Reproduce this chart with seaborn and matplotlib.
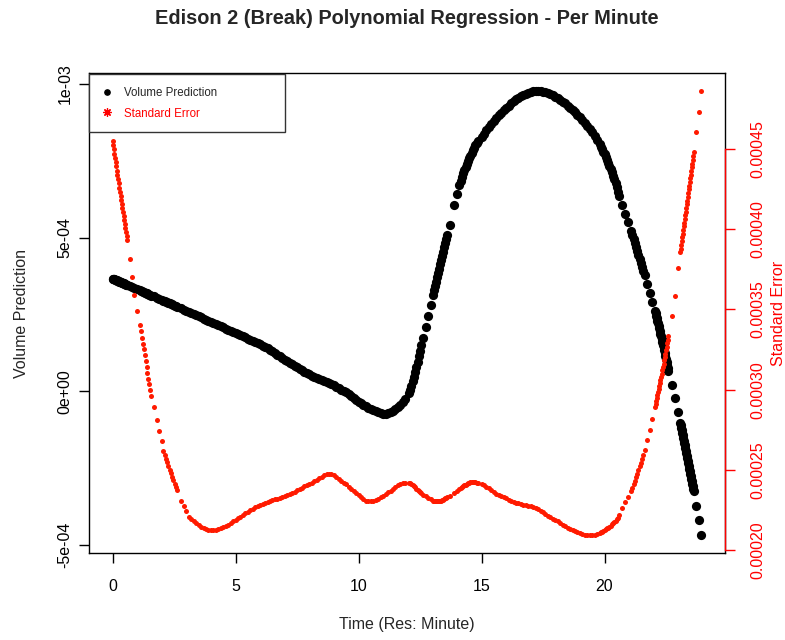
import numpy as np
import pandas as pd
import matplotlib
matplotlib.use("Agg")
import matplotlib.pyplot as plt
import seaborn as sns
from matplotlib.lines import Line2D

TITLE = "Edison 2 (Break) Polynomial Regression - Per Minute"
X_LABEL = "Time (Res: Minute)"
Y_LABEL = "Volume Prediction"
Y2_LABEL = "Standard Error"
LEGEND_LABELS = ["Volume Prediction", "Standard Error"]

# time of day (hours) for each fitted point
time_hr = [
    0.000, 0.025, 0.050, 0.075, 0.100, 0.125, 0.150, 0.175, 0.200, 0.225,
    0.250, 0.275, 0.300, 0.325, 0.350, 0.375, 0.400, 0.425, 0.450, 0.475,
    0.500, 0.525, 0.550, 0.575, 0.600,
    0.69, 0.78, 0.89, 1.00,
    1.10, 1.14, 1.18, 1.22, 1.26, 1.30, 1.34, 1.38, 1.42, 1.46, 1.50, 1.54, 1.58,
    1.67, 1.79, 1.88, 1.99,
    2.07, 2.12, 2.17, 2.22, 2.27, 2.32, 2.37, 2.42, 2.47, 2.52, 2.57, 2.62,
    2.79, 2.89, 2.99,
    3.1, 3.2, 3.3, 3.4, 3.5, 3.6, 3.7, 3.8, 3.9,
    4.0, 4.1, 4.2, 4.3, 4.4, 4.5, 4.6, 4.7, 4.8, 4.9,
    5.0, 5.1, 5.2, 5.3, 5.4, 5.5, 5.6, 5.7, 5.8, 5.9,
    6.0, 6.1, 6.2, 6.3, 6.4, 6.5, 6.6, 6.7, 6.8, 6.9,
    7.0, 7.1, 7.2, 7.3, 7.4, 7.5, 7.6, 7.7, 7.8, 7.9,
    8.0, 8.1, 8.2, 8.3, 8.4, 8.5, 8.6, 8.7, 8.8, 8.9,
    9.0, 9.1, 9.2, 9.3, 9.4, 9.5, 9.6, 9.7, 9.8, 9.9,
    10.0, 10.1, 10.2, 10.3, 10.4, 10.5, 10.6, 10.7, 10.8, 10.9,
    11.0, 11.1, 11.2, 11.3, 11.4, 11.5, 11.6, 11.7, 11.8, 11.9,
    12.05, 12.10, 12.15, 12.20, 12.25, 12.30, 12.35, 12.40, 12.45, 12.50, 12.55,
    12.64, 12.74, 12.84, 12.94,
    13.04, 13.08, 13.12, 13.16, 13.20, 13.24, 13.28, 13.32, 13.36, 13.40,
    13.44, 13.48, 13.52, 13.56, 13.60,
    13.72, 13.90, 14.01,
    14.10, 14.15, 14.20, 14.25, 14.30, 14.35, 14.40, 14.45, 14.50, 14.55,
    14.60, 14.65, 14.70, 14.75, 14.80, 14.85,
    15.0, 15.1, 15.2, 15.3, 15.4, 15.5, 15.6, 15.7, 15.8, 15.9,
    16.0, 16.1, 16.2, 16.3, 16.4, 16.5, 16.6, 16.7, 16.8, 16.9,
    17.0, 17.1, 17.2, 17.3, 17.4, 17.5, 17.6, 17.7, 17.8, 17.9,
    18.0, 18.1, 18.2, 18.3, 18.4, 18.5, 18.6, 18.7, 18.8, 18.9,
    19.0, 19.1, 19.2, 19.3, 19.4, 19.5, 19.6, 19.7, 19.8, 19.85, 19.9, 19.95,
    20.0, 20.05, 20.1, 20.15, 20.2, 20.25, 20.3, 20.35, 20.4, 20.45, 20.5, 20.55, 20.6,
    20.73, 20.85, 20.97,
    21.08, 21.13, 21.18, 21.23, 21.28, 21.33, 21.38, 21.43, 21.48, 21.53, 21.58, 21.63,
    21.74, 21.85, 21.95,
    22.050, 22.075, 22.100, 22.125, 22.150, 22.175, 22.200, 22.225, 22.250, 22.275,
    22.300, 22.325, 22.350, 22.375, 22.400, 22.425, 22.450, 22.475, 22.500, 22.525,
    22.550, 22.575, 22.600,
    22.73, 22.85, 22.98,
    23.08, 23.10, 23.12, 23.14, 23.16, 23.18, 23.20, 23.22, 23.24, 23.26,
    23.28, 23.30, 23.32, 23.34, 23.36, 23.38, 23.40, 23.42, 23.44, 23.46,
    23.48, 23.50, 23.52, 23.54, 23.56, 23.58, 23.60, 23.62,
    23.72, 23.83, 23.94,
]

# predicted volume, in units of 1e-4
volume_e4 = [
    3.670, 3.661, 3.652, 3.644, 3.635, 3.626, 3.617, 3.609, 3.600, 3.591,
    3.582, 3.574, 3.565, 3.556, 3.547, 3.539, 3.530, 3.521, 3.512, 3.504,
    3.495, 3.486, 3.477, 3.469, 3.460,
    3.43, 3.40, 3.36, 3.32,
    3.285, 3.271, 3.257, 3.243, 3.229, 3.215, 3.201, 3.187, 3.173, 3.159, 3.145, 3.131, 3.117,
    3.09, 3.05, 3.02, 2.98,
    2.950, 2.933, 2.915, 2.898, 2.880, 2.863, 2.845, 2.828, 2.810, 2.793, 2.775, 2.758,
    2.70, 2.66, 2.62,
    2.585, 2.550, 2.510, 2.475, 2.440, 2.405, 2.370, 2.330, 2.295,
    2.260, 2.225, 2.190, 2.150, 2.115, 2.080, 2.045, 2.010, 1.970, 1.935,
    1.900, 1.865, 1.830, 1.790, 1.755, 1.720, 1.685, 1.645, 1.610, 1.570,
    1.530, 1.490, 1.445, 1.400, 1.350, 1.300, 1.250, 1.195, 1.140, 1.085,
    1.030, 0.980, 0.930, 0.880, 0.830, 0.780, 0.730, 0.685, 0.640, 0.595,
    0.550, 0.515, 0.480, 0.445, 0.410, 0.380, 0.345, 0.310, 0.270, 0.235,
    0.195, 0.150, 0.100, 0.050, 0.010, -0.030, -0.090, -0.150, -0.210, -0.270,
    -0.330, -0.380, -0.430, -0.480, -0.530, -0.570, -0.610, -0.650, -0.680, -0.700,
    -0.720, -0.720, -0.700, -0.670, -0.630, -0.580, -0.520, -0.440, -0.350, -0.250,
    -0.05, 0.06, 0.19, 0.33, 0.48, 0.64, 0.80, 0.97, 1.14, 1.32, 1.50,
    1.74, 2.09, 2.44, 2.80,
    3.15, 3.29, 3.43, 3.57, 3.71, 3.85, 3.99, 4.13, 4.27, 4.41,
    4.55, 4.69, 4.83, 4.96, 5.10,
    5.42, 6.08, 6.42,
    6.72, 6.85, 6.97, 7.09, 7.20, 7.30, 7.40, 7.49, 7.58, 7.67,
    7.76, 7.85, 7.93, 8.01, 8.08, 8.15,
    8.27, 8.39, 8.50, 8.60, 8.70, 8.80, 8.89, 8.98, 9.07, 9.15,
    9.23, 9.30, 9.37, 9.44, 9.50, 9.55, 9.60, 9.65, 9.69, 9.72,
    9.75, 9.77, 9.78, 9.78, 9.77, 9.75, 9.73, 9.71, 9.67, 9.63,
    9.59, 9.54, 9.49, 9.43, 9.37, 9.30, 9.23, 9.15, 9.08, 9.00,
    8.92, 8.83, 8.74, 8.64, 8.54, 8.43, 8.31, 8.18, 8.04, 7.96, 7.88, 7.80,
    7.71, 7.62, 7.53, 7.44, 7.34, 7.24, 7.14, 7.02, 6.90, 6.77, 6.64, 6.50, 6.36,
    6.05, 5.78, 5.50,
    5.22, 5.09, 4.96, 4.84, 4.71, 4.58, 4.45, 4.32, 4.19, 4.06, 3.93, 3.80,
    3.50, 3.19, 2.90,
    2.62, 2.54, 2.46, 2.38, 2.30, 2.22, 2.13, 2.05, 1.96, 1.88,
    1.79, 1.70, 1.61, 1.52, 1.43, 1.34, 1.24, 1.15, 1.05, 0.96,
    0.86, 0.76, 0.66,
    0.20, -0.22, -0.68,
    -1.02, -1.10, -1.18, -1.27, -1.35, -1.43, -1.51, -1.60, -1.68, -1.76,
    -1.85, -1.93, -2.01, -2.09, -2.18, -2.26, -2.34, -2.43, -2.51, -2.59,
    -2.68, -2.76, -2.84, -2.92, -3.01, -3.09, -3.17, -3.25,
    -3.72, -4.20, -4.68,
]

# standard error of the prediction, in units of 1e-5
std_err_e5 = [
    45.50, 45.23, 44.96, 44.69, 44.42, 44.15, 43.89, 43.62, 43.36, 43.10,
    42.84, 42.58, 42.32, 42.06, 41.81, 41.55, 41.30, 41.05, 40.80, 40.55,
    40.30, 40.05, 39.81, 39.56, 39.32,
    38.1, 37.0, 35.9, 34.9,
    34.00, 33.62, 33.24, 32.87, 32.50, 32.13, 31.76, 31.40, 31.04, 30.68, 30.33, 29.98, 29.63,
    28.9, 28.1, 27.4, 26.8,
    26.20, 25.95, 25.71, 25.47, 25.24, 25.01, 24.79, 24.57, 24.36, 24.15, 23.95, 23.75,
    23.05, 22.75, 22.45,
    22.10, 21.95, 21.80, 21.67, 21.56, 21.46, 21.38, 21.31, 21.27,
    21.25, 21.24, 21.26, 21.30, 21.36, 21.43, 21.51, 21.60, 21.70, 21.80,
    21.90, 22.00, 22.10, 22.20, 22.30, 22.40, 22.49, 22.58, 22.67, 22.75,
    22.83, 22.90, 22.96, 23.02, 23.07, 23.12, 23.17, 23.22, 23.27, 23.33,
    23.39, 23.45, 23.52, 23.59, 23.66, 23.74, 23.82, 23.90, 23.98, 24.06,
    24.14, 24.22, 24.31, 24.40, 24.49, 24.58, 24.67, 24.74, 24.78, 24.76,
    24.68, 24.58, 24.46, 24.34, 24.22, 24.10, 23.96, 23.82, 23.68, 23.55,
    23.42, 23.30, 23.19, 23.10, 23.05, 23.04, 23.07, 23.13, 23.21, 23.30,
    23.40, 23.50, 23.61, 23.72, 23.83, 23.94, 24.04, 24.13, 24.19, 24.22,
    24.20, 24.16, 24.11, 24.05, 23.98, 23.91, 23.84, 23.77, 23.70, 23.63, 23.56,
    23.46, 23.36, 23.26, 23.17,
    23.09, 23.07, 23.05, 23.04, 23.04, 23.05, 23.06, 23.08, 23.10, 23.13,
    23.16, 23.19, 23.23, 23.27, 23.31,
    23.40, 23.58, 23.70,
    23.80, 23.86, 23.92, 23.98, 24.04, 24.09, 24.14, 24.18, 24.22, 24.25,
    24.26, 24.26, 24.25, 24.23, 24.20, 24.17,
    24.12, 24.04, 23.95, 23.85, 23.74, 23.63, 23.52, 23.42, 23.35, 23.30,
    23.23, 23.15, 23.07, 23.01, 22.96, 22.92, 22.89, 22.85, 22.82, 22.78,
    22.74, 22.70, 22.63, 22.55, 22.46, 22.36, 22.26, 22.16, 22.06, 21.98,
    21.89, 21.80, 21.70, 21.60, 21.50, 21.41, 21.34, 21.27, 21.20, 21.13,
    21.07, 21.02, 20.98, 20.95, 20.94, 20.94, 20.97, 21.01, 21.07, 21.11, 21.15, 21.20,
    21.25, 21.30, 21.36, 21.42, 21.48, 21.54, 21.61, 21.68, 21.76, 21.84, 21.93, 22.04, 22.17,
    22.62, 22.98, 23.34,
    23.70, 23.90, 24.11, 24.32, 24.54, 24.76, 24.99, 25.22, 25.46, 25.71, 25.96, 26.22,
    26.85, 27.50, 28.20,
    28.90, 29.08, 29.27, 29.45, 29.64, 29.83, 30.02, 30.21, 30.40, 30.60,
    30.80, 31.00, 31.20, 31.40, 31.61, 31.82, 32.03, 32.24, 32.46, 32.68,
    32.90, 33.12, 33.35,
    34.6, 35.8, 37.6,
    38.55, 38.78, 39.01, 39.24, 39.47, 39.70, 39.93, 40.16, 40.39, 40.62,
    40.85, 41.08, 41.31, 41.54, 41.77, 42.00, 42.23, 42.46, 42.69, 42.92,
    43.15, 43.38, 43.61, 43.84, 44.07, 44.30, 44.53, 44.76,
    46.05, 47.30, 48.60,
]

x_ticks = [0, 5, 10, 15, 20]
x_tick_labels = ["0", "5", "10", "15", "20"]
vol_ticks = [-5e-4, 0.0, 5e-4, 1e-3]
vol_tick_labels = ["-5e-04", "0e+00", "5e-04", "1e-03"]
se_ticks = [0.00020, 0.00025, 0.00030, 0.00035, 0.00040, 0.00045]
se_tick_labels = ["0.00020", "0.00025", "0.00030", "0.00035", "0.00040", "0.00045"]

assert len(time_hr) == len(volume_e4) == len(std_err_e5)

df = pd.DataFrame({
    "time": time_hr,
    "volume": np.array(volume_e4) * 1e-4,
    "se": np.array(std_err_e5) * 1e-5,
})

sns.set_style("white")
plt.rcParams["font.family"] = ["Liberation Sans", "DejaVu Sans"]

W, H = 785, 640
fig = plt.figure(figsize=(W / 100, H / 100), dpi=100)
L, R, T, B = 89, 725, 73, 553
ax = fig.add_axes([L / W, (H - B) / H, (R - L) / W, (B - T) / H])

sns.scatterplot(data=df, x="time", y="volume", ax=ax, color="black",
                s=44, linewidth=0, legend=False)
ax.margins(x=0.04, y=0.04)

ax2 = ax.twinx()
sns.scatterplot(data=df, x="time", y="se", ax=ax2, color="#ff1a00",
                s=13, linewidth=0, legend=False)
ax2.margins(x=0.04, y=0.04)

FS = 11.5
ax.set_xticks(x_ticks)
ax.set_xticklabels(x_tick_labels)
ax.set_yticks(vol_ticks)
ax.set_yticklabels(vol_tick_labels, rotation=90, va="center")
ax2.set_yticks(se_ticks)
ax2.set_yticklabels(se_tick_labels, rotation=90, va="center")

ax.tick_params(axis="both", direction="out", length=7, width=1,
               color="black", labelsize=FS, labelcolor="black")
ax.tick_params(axis="x", pad=12, bottom=True)
ax.tick_params(axis="y", pad=5, left=True)
ax2.tick_params(axis="y", direction="out", length=7, width=1, colors="red",
                labelsize=FS, pad=11, right=True)

for sp in ax.spines.values():
    sp.set_visible(True)
    sp.set_color("black")
    sp.set_linewidth(1.0)
for name in ("top", "left", "bottom"):
    ax2.spines[name].set_visible(False)
ax2.spines["right"].set_visible(True)
ax2.spines["right"].set_color("red")
ax2.spines["right"].set_linewidth(1.0)
ax2.spines["right"].set_bounds(se_ticks[0], se_ticks[-1])

ax.set_xlabel(X_LABEL, fontsize=FS)
ax.xaxis.set_label_coords(0.5, -(624 - B) / (B - T))
ax.xaxis.label.set_va("center")
ax.set_ylabel(Y_LABEL, fontsize=FS)
ax.yaxis.set_label_coords(-(L - 22) / (R - L), 0.5)
ax.yaxis.label.set_va("center")
ax2.set_ylabel(Y2_LABEL, fontsize=FS, color="red")
ax2.yaxis.set_label_coords(1 + (779 - R) / (R - L), 0.5)
ax2.yaxis.label.set_va("center")

ax.set_title(TITLE, fontsize=14.4, fontweight="bold", pad=0,
             y=1 + (T - 18) / (B - T), va="center")

handles = [
    Line2D([], [], ls="none", marker="o", color="black", markersize=3.8),
    Line2D([], [], ls="none", marker=(8, 2, 0), color="red",
           markeredgewidth=0.9, markersize=6),
]
leg = ax2.legend(handles, LEGEND_LABELS, loc="upper left",
                 bbox_to_anchor=(0, 0, 196 / (R - L), 0.998), mode="expand",
                 borderaxespad=0, fancybox=False, framealpha=1,
                 edgecolor="#333333", fontsize=8.3, borderpad=1.1,
                 labelspacing=0.77, handlelength=0.97, handletextpad=0.99)
leg.get_frame().set_linewidth(1.0)
leg.get_texts()[1].set_color("red")

fig.savefig("out.png", dpi=100)
